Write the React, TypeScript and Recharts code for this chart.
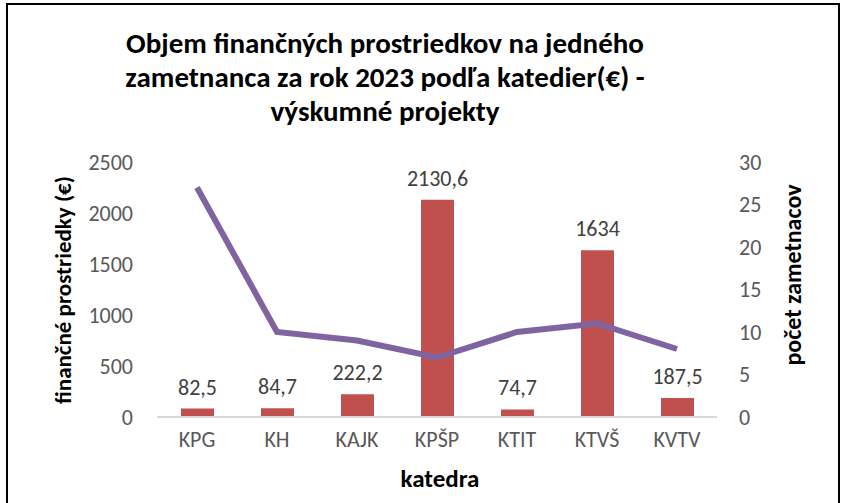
import { ComposedChart, Bar, Line, XAxis, YAxis, LabelList } from "recharts";

const katedry = ["KPG", "KH", "KAJK", "KPŠP", "KTIT", "KTVŠ", "KVTV"];
const prostriedky = [82.5, 84.7, 222.2, 2130.6, 74.7, 1634, 187.5];
const zamestnanci = [27, 10, 9, 7, 10, 11, 8];
const leftTicks = [0, 500, 1000, 1500, 2000, 2500];
const rightTicks = [0, 5, 10, 15, 20, 25, 30];

const data = katedry.map((k, i) => ({
  name: k,
  suma: prostriedky[i],
  pocet: zamestnanci[i],
}));

const font = "Carlito, Lato, 'Open Sans', sans-serif";
const tickStyle = { fontSize: 22, fill: "#595959", fontFamily: font };

function fmt(v: any) {
  return String(v).replace(".", ",");
}

export default function App() {
  return (
    <div style={{ position: "relative", width: 841, height: 503, overflow: "hidden", fontFamily: font }}>
      <style>{`body{margin:0;overflow:hidden;background:#fff}`}</style>
      <div
        style={{
          position: "absolute",
          left: 6,
          top: 3,
          width: 830,
          height: 520,
          border: "2px solid #000",
        }}
      />
      <div
        style={{
          position: "absolute",
          left: 35,
          width: 700,
          top: 26,
          textAlign: "center",
          fontWeight: "bold",
          fontSize: 29,
          lineHeight: "34px",
          color: "#000",
        }}
      >
        Objem finančných prostriedkov na jedného
        <br />
        zametnanca za rok 2023 podľa katedier(€) -
        <br />
        výskumné projekty
      </div>
      <div
        style={{
          position: "absolute",
          left: 63,
          top: 290,
          transform: "translate(-50%, -50%) rotate(-90deg)",
          whiteSpace: "nowrap",
          fontWeight: "bold",
          fontSize: 23,
        }}
      >
        finančné prostriedky (€)
      </div>
      <div
        style={{
          position: "absolute",
          left: 792,
          top: 275,
          transform: "translate(-50%, -50%) rotate(-90deg)",
          whiteSpace: "nowrap",
          fontWeight: "bold",
          fontSize: 24,
        }}
      >
        počet zametnacov
      </div>
      <div
        style={{
          position: "absolute",
          left: 440,
          top: 478,
          transform: "translate(-50%, -50%)",
          whiteSpace: "nowrap",
          fontWeight: "bold",
          fontSize: 25,
        }}
      >
        katedra
      </div>
      <div style={{ position: "absolute", left: 0, top: 0 }}>
        <ComposedChart
          width={841}
          height={503}
          data={data}
          margin={{ top: 162, right: 0, left: 0, bottom: 0 }}
        >
          <XAxis
            dataKey="name"
            axisLine={{ stroke: "#D9D9D9", strokeWidth: 2 }}
            tickLine={false}
            tick={tickStyle}
            tickSize={0}
            tickMargin={14}
            height={86}
          />
          <YAxis
            yAxisId="left"
            orientation="left"
            width={157}
            domain={[0, 2500]}
            ticks={leftTicks}
            axisLine={false}
            tickLine={false}
            tickSize={0}
            tickMargin={24}
            tick={tickStyle}
          />
          <YAxis
            yAxisId="right"
            orientation="right"
            width={124}
            domain={[0, 30]}
            ticks={rightTicks}
            axisLine={false}
            tickLine={false}
            tickSize={0}
            tickMargin={22}
            tick={tickStyle}
          />
          <Bar yAxisId="left" dataKey="suma" fill="#C0504D" barSize={33} isAnimationActive={false}>
            <LabelList
              dataKey="suma"
              position="top"
              offset={14}
              formatter={fmt}
              style={{ fontSize: 22, fill: "#404040", fontFamily: font }}
            />
          </Bar>
          <Line
            yAxisId="right"
            dataKey="pocet"
            stroke="#8064A2"
            strokeWidth={6}
            dot={false}
            type="linear"
            isAnimationActive={false}
          />
        </ComposedChart>
      </div>
    </div>
  );
}
